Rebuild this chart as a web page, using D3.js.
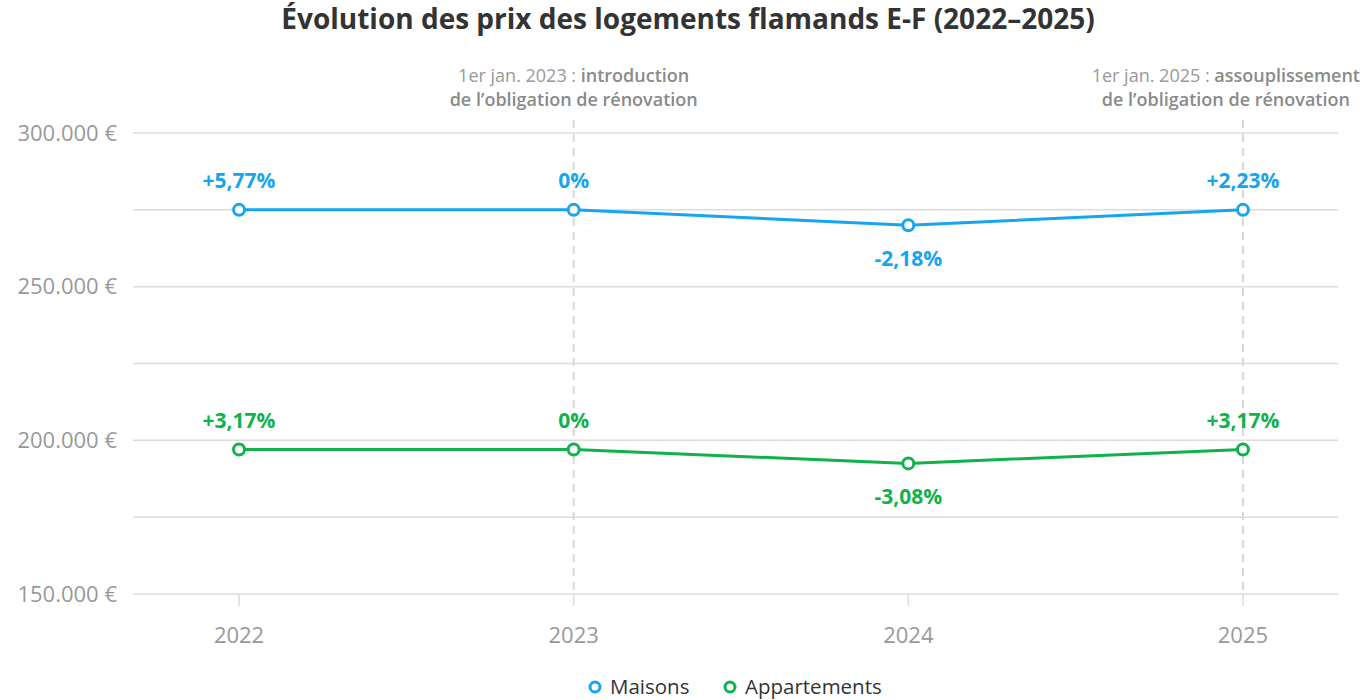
<!DOCTYPE html>
<html lang="fr">
<head>
<meta charset="UTF-8" />
<title>Évolution des prix des logements flamands E-F</title>
<script src="https://d3js.org/d3.v7.min.js"></script>
<style>
body {
    margin: 0;
    padding: 0;
    background: #fff;
    font-family: "Open Sans", Lato, sans-serif;
}
svg { display: block; }
</style>
</head>
<body>
<svg width="1360" height="700"></svg>
<script>
// data
const years = ["2022", "2023", "2024", "2025"];
const maisons = [275000, 275000, 270000, 275000];
const appartements = [197000, 197000, 192500, 197000];
const maisonsLabels = ["+5,77%", "0%", "-2,18%", "+2,23%"];
const appartLabels = ["+3,17%", "0%", "-3,08%", "+3,17%"];
const yTicks = [150000, 175000, 200000, 225000, 250000, 275000, 300000];
const yTickLabels = ["150.000 €", "", "200.000 €", "", "250.000 €", "", "300.000 €"];
const annotations = [
    { year: "2023", date: "1er jan. 2023 : ", what: "introduction", line2: "de l’obligation de rénovation" },
    { year: "2025", date: "1er jan. 2025 : ", what: "assouplissement", line2: "de l’obligation de rénovation" }
];

const blue = "#17a5ee";
const green = "#0fb24b";
const grey = "#999";

const svg = d3.select("svg");
const plotLeft = 133, plotRight = 1338, plotTop = 133, plotBottom = 594;

const x = d3.scalePoint().domain(years).range([142, 1340]).padding(0.29);
const y = d3.scaleLinear().domain([150000, 300000]).range([plotBottom, plotTop]);

// title
svg.append("text")
    .attr("x", 688).attr("y", 29)
    .attr("text-anchor", "middle")
    .style("font-size", "28px")
    .style("font-weight", "bold")
    .style("fill", "#333")
    .text("Évolution des prix des logements flamands E-F (2022–2025)");

// grid
svg.append("g").selectAll("line")
    .data(yTicks).enter().append("line")
    .attr("x1", plotLeft).attr("x2", plotRight)
    .attr("y1", d => y(d)).attr("y2", d => y(d))
    .style("stroke", "#dcdcdc").style("stroke-width", 1.5);

svg.append("g").selectAll("text")
    .data(yTicks).enter().append("text")
    .attr("x", 117).attr("y", d => y(d))
    .attr("dy", "0.35em")
    .attr("text-anchor", "end")
    .style("font-size", "22px")
    .style("fill", grey)
    .text((d, i) => yTickLabels[i]);

// x axis ticks
const xa = svg.append("g");
xa.selectAll("line").data(years).enter().append("line")
    .attr("x1", d => x(d)).attr("x2", d => x(d))
    .attr("y1", plotBottom).attr("y2", plotBottom + 12)
    .style("stroke", "#dcdcdc").style("stroke-width", 1.5);
xa.selectAll("text").data(years).enter().append("text")
    .attr("x", d => x(d)).attr("y", 635)
    .attr("dy", "0.35em")
    .attr("text-anchor", "middle")
    .style("font-size", "22px")
    .style("fill", grey)
    .text(d => d);

// annotations
annotations.forEach(a => {
    const ax = x(a.year);
    svg.append("line")
        .attr("x1", ax).attr("x2", ax)
        .attr("y1", 120).attr("y2", plotBottom)
        .style("stroke", "#d8d8d8").style("stroke-width", 2)
        .style("stroke-dasharray", "8,6");
    const g = svg.append("g");
    const t1 = g.append("text").attr("y", 76).attr("dy", "0.35em")
        .style("font-size", "18px").style("fill", grey);
    t1.append("tspan").text(a.date);
    t1.append("tspan").style("font-weight", "600").style("fill", "#8a8a8a").text(a.what);
    const t2 = g.append("text").attr("y", 100).attr("dy", "0.35em")
        .style("font-size", "18px").style("font-weight", "600").style("fill", "#8a8a8a")
        .text(a.line2);
    // centre both lines on the marker, keep inside the page
    let w = Math.max(t1.node().getComputedTextLength(), t2.node().getComputedTextLength());
    let cx = Math.min(ax, 1360 - w / 2);
    t1.attr("x", cx).attr("text-anchor", "middle");
    t2.attr("x", cx).attr("text-anchor", "middle");
});

// series
const series = [
    { name: "Maisons", values: maisons, labels: maisonsLabels, color: blue },
    { name: "Appartements", values: appartements, labels: appartLabels, color: green }
];

const line = d3.line().x((d, i) => x(years[i])).y(d => y(d));

series.forEach(s => {
    svg.append("path")
        .datum(s.values)
        .attr("d", line)
        .style("fill", "none")
        .style("stroke", s.color)
        .style("stroke-width", 3);

    svg.append("g").selectAll("circle")
        .data(s.values).enter().append("circle")
        .attr("cx", (d, i) => x(years[i]))
        .attr("cy", d => y(d))
        .attr("r", 5.5)
        .style("fill", "#fff")
        .style("stroke", s.color)
        .style("stroke-width", 3);

    svg.append("g").selectAll("text")
        .data(s.values).enter().append("text")
        .attr("x", (d, i) => x(years[i]))
        .attr("y", (d, i) => {
            // dip points get the label below
            const below = i > 0 && d < s.values[i - 1];
            return below ? y(d) + 33 : y(d) - 29;
        })
        .attr("dy", "0.35em")
        .attr("text-anchor", "middle")
        .style("font-size", "21px")
        .style("font-weight", "bold")
        .style("fill", s.color)
        .text((d, i) => s.labels[i]);
});

// legend
const legend = svg.append("g");
const items = [
    { name: "Maisons", color: blue, cx: 595 },
    { name: "Appartements", color: green, cx: 730 }
];
items.forEach(it => {
    legend.append("circle")
        .attr("cx", it.cx).attr("cy", 687).attr("r", 5)
        .style("fill", "#fff").style("stroke", it.color).style("stroke-width", 3);
    legend.append("text")
        .attr("x", it.cx + 15).attr("y", 687).attr("dy", "0.35em")
        .style("font-size", "20.5px").style("fill", "#333")
        .text(it.name);
});
</script>
</body>
</html>
